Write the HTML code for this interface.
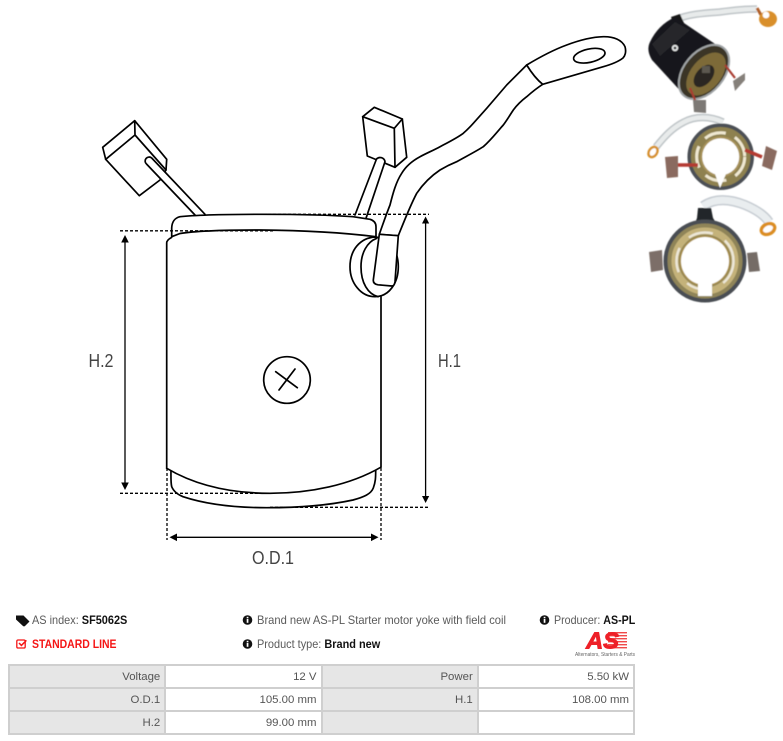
<!DOCTYPE html>
<html>
<head>
<meta charset="utf-8">
<style>
html,body{margin:0;padding:0;background:#fff;}
body{width:783px;height:741px;position:relative;overflow:hidden;font-family:"Liberation Sans",sans-serif;}
svg{position:absolute;left:0;top:0;}
.t{position:absolute;font-size:12px;line-height:14px;color:#5a5a5a;white-space:nowrap;transform-origin:left center;}
.t b{color:#111;}
table{position:absolute;left:8px;top:664px;width:627px;height:69px;border-collapse:collapse;table-layout:fixed;font-size:11.4px;color:#555;}
td{border:2px solid #cfcfcf;text-align:right;padding:0 4px 0 0;height:21px;line-height:14px;}
td.l{background:#e6e6e6;}
</style>
</head>
<body>
<svg width="783" height="741" viewBox="0 0 783 741">
<defs>
<filter id="b" x="-20%" y="-20%" width="140%" height="140%"><feGaussianBlur stdDeviation="0.6"/></filter>
</defs>

<!-- main drawing -->
<g fill="none" stroke="#000" stroke-width="1.7" stroke-linejoin="round" stroke-linecap="round">
  <!-- left brush -->
  <path fill="#fff" d="M134.7 120.7L102.7 147.3L105.7 159.3L139.3 195.7L160 180L166 170L166.7 159.3Z"/>
  <path d="M105.7 159.3L135 135L134.7 120.7M135 135L166 170"/>
  <path fill="#fff" d="M195 215L146.5 164A3.5 3.5 0 0 1 151.7 158L205 214.3"/>
  <!-- right brush -->
  <path fill="#fff" d="M362.7 116.7L374.3 107.3L402.3 119L406.7 157.3L395 167.3L367.3 156Z"/>
  <path d="M362.7 116.7L394.3 128.3L402.3 119M394.3 128.3L395 167.3"/>
  <path fill="#fff" d="M355 215L376.5 159A5 5 0 0 1 385 161.7L366 218.3"/>

  <!-- lower lobe, behind the body -->
  <path fill="#fff" d="M171 470C170.8 480 170.8 483 171.7 486.7C174 492 178 494.5 183 496.7C205 504 235 507.7 266.7 507.7C300 507.7 330 505 353 500C364 497 371 494 373.3 488C375.5 482 375.7 478 375.7 470"/>
  <!-- body -->
  <path fill="#fff" d="M166.7 468.3V243C166.7 240 169 238 172 237L376 237.3L381 297V467.3C350 485 310 493.3 270 493.3C230 493.3 195 485 166.7 468.3Z" stroke="none"/>
  <path d="M166.7 468.3V243Q166.7 240 171.5 237.5M381 296.7V467.3"/>
  <path d="M166.7 468.3C195 485 230 493.3 270 493.3C310 493.3 350 485 380.7 467.3"/>
  <!-- top band -->
  <path fill="#fff" d="M171.7 236.7V228C172 221 175 218 180 216.7C200 214.5 230 214.3 263 214.3C295 214.3 330 215 353 216.7L370 219.3C374 220.5 376 223 376 226.7V236.7C350 233.5 310 230.5 260 230C225 230 195 231 180 233.5Z"/>
  <!-- terminal ellipse -->
  <path fill="#fff" d="M375 237C360 238 350 250 350 266.7C350 283 361 296.7 375 296.7C389 296.7 398.3 283 398.3 266.7C398.3 250 389 238 375 237Z"/>
  <path d="M376.7 238.3C367 242 361 253 361 266.7C361 283 368 294 378 296.7"/>
  <!-- lead -->
  <path fill="#fff" d="M379.3 234.3C383 224 386 215 390 205C393 193 396 182 401.7 173.3C406 166 412 161 420 156.7C427 153 434 150 440 146.7C449 142 457 138 463.3 133.3C467 130 470 127 473.3 123.3L486.7 108.3L506.7 85L526.7 65L542.7 84.3C537 88 532 92 526.7 96.7C521 101 517 105 513.3 110C510 115 507 120 503.3 125C497 132 491 140 483.3 146.7C475 152 465 157 456.7 161.7C451 164 445 167 440 170C431 176 423 184 416.7 193.3C410 206 403 224 398.3 235.7Z"/>
  <path fill="#fff" d="M526.7 65C540 57 553 50 566.7 45C580 40 592 37 603.3 36.7C614 36.5 622 40 625 46.7C626.5 52 625 56 623 58C618 62 611 64.5 603.3 66.7L542.7 84.3C536 79 531 72 526.7 65Z"/>
  <ellipse cx="589.3" cy="55.7" rx="16" ry="6.7" transform="rotate(-12 589.3 55.7)"/>
  <!-- clamp -->
  <path fill="#fff" d="M379.3 234.3L398.3 235.7L395 281.7Q394.5 286 391.7 286L378 284.8Q373 284 373.3 280Z"/>
  <!-- centre symbol -->
  <circle cx="287" cy="380" r="23.3"/>
  <path d="M275.7 371.7L297.3 387.7M295 369L279 390"/>
  <!-- dimension arrows -->
  <g stroke-width="1.3">
    <path d="M125 241V484M425.6 222V497M176 537.3H372"/>
  </g>
</g>
<g fill="#000">
  <path d="M125 235l-3.8 7.5h7.6zM125 490l-3.8-7.5h7.6zM425.6 216.5l-3.6 7h7.2zM425.6 503l-3.6-7h7.2zM169.5 537.3l7.5-3.8v7.6zM378.5 537.3l-7.5-3.8v7.6z"/>
</g>
<g fill="none" stroke="#000" stroke-width="1.3" stroke-dasharray="3 2">
  <path d="M120 230.8H273M263 214.3H429M120 493.3H270M270 507.3H429M167 468V540M381 468V540"/>
</g>

<!-- dimension labels -->
<g font-family="'Liberation Sans',sans-serif" font-size="18" fill="#444">
  <text x="88.5" y="367" textLength="25" lengthAdjust="spacingAndGlyphs">H.2</text>
  <text x="438" y="367" textLength="23" lengthAdjust="spacingAndGlyphs">H.1</text>
  <text x="252" y="564" textLength="42" lengthAdjust="spacingAndGlyphs">O.D.1</text>
</g>

<!-- photographs -->
<g filter="url(#b)">
  <!-- photo 1 -->
  <path d="M675 20C688 14 705 13 720 12C735 10 748 9 757 9" fill="none" stroke="#bfc5c8" stroke-width="7.5"/>
  <path d="M675 20C688 14 705 13 720 12C735 10 748 9 757 9" fill="none" stroke="#e8ebeb" stroke-width="4.5"/>
  <path d="M757 8L761 15" stroke="#b0612a" stroke-width="3"/>
  <ellipse cx="768" cy="19" rx="9" ry="8" fill="#d98f2a"/>
  <circle cx="766" cy="15" r="3.4" fill="#fff"/>
  <path d="M671 17L680 14L684 23L674 25Z" fill="#151515"/>
  <path d="M675 17L724 50L686 97L652 60Q646 50 650 42Q658 25 675 17Z" fill="#15171a"/>
  <path d="M652 44L675 22L690 30L660 56Z" fill="#26282c"/>
  <ellipse cx="704" cy="72" rx="31" ry="20" transform="rotate(-50 704 72)" fill="#3a3628" stroke="#a0a4a6" stroke-width="2"/>
  <ellipse cx="706" cy="74" rx="25" ry="15" transform="rotate(-50 706 74)" fill="#7d6a38"/>
  <ellipse cx="704" cy="76" rx="13" ry="8" transform="rotate(-50 704 76)" fill="#2a2620"/>
  <rect x="702" y="66" width="8" height="7" fill="#5c5850"/>
  <circle cx="675" cy="48" r="3.2" fill="#e4e6e6"/>
  <circle cx="675" cy="48" r="1.4" fill="#333"/>
  <path d="M690 88L695 100M725 65L735 78" stroke="#a93c30" stroke-width="2.2"/>
  <path d="M693 100L706 100L706 113L694 112Z" fill="#7d7974"/>
  <path d="M733 81L745 73L745 80L735 91Z" fill="#85807a"/>

  <!-- photo 2 -->
  <path d="M723 122C710 116 695 116 684 122C672 128 664 137 656 147" fill="none" stroke="#bfc5c8" stroke-width="7.5"/>
  <path d="M723 122C710 116 695 116 684 122C672 128 664 137 656 147" fill="none" stroke="#e8ebeb" stroke-width="4.5"/>
  <ellipse cx="653" cy="152" rx="4" ry="5.5" transform="rotate(35 653 152)" fill="#fff" stroke="#d6912d" stroke-width="2.5"/>
  <circle cx="720.7" cy="156.7" r="31.5" fill="#8e8150" stroke="#4c5054" stroke-width="3.5"/>
  <circle cx="720.7" cy="156.7" r="24" fill="none" stroke="#efe8d2" stroke-width="3" stroke-dasharray="22 10"/>
  <circle cx="720.7" cy="156.7" r="20.5" fill="#a8935a"/>
  <circle cx="720.7" cy="156.7" r="18.5" fill="#fff"/>
  <path d="M715 174L720 188L726 174Z" fill="#fff"/>
  <path d="M677 165L698 165M745 150L762 157" stroke="#b43a30" stroke-width="3.4"/>
  <path d="M665 157L678 156L678 177L667 178Z" fill="#8a6b5f"/>
  <path d="M766 146L777 151L772 170L762 166Z" fill="#8a6b5f"/>

  <!-- photo 3 -->
  <path d="M703 206C715 198 730 199 745 205C757 210 765 216 769 222" fill="none" stroke="#c6ccd2" stroke-width="10"/>
  <path d="M703 206C715 198 730 199 745 205C757 210 765 216 769 222" fill="none" stroke="#e9edef" stroke-width="7"/>
  <ellipse cx="768" cy="229" rx="7" ry="5" transform="rotate(-25 768 229)" fill="#fff" stroke="#db8e22" stroke-width="3.4"/>
  <path d="M698 208L711 208L713 218L718 226L694 226L697 218Z" fill="#24272a"/>
  <circle cx="705" cy="261" r="39.5" fill="#8f8458" stroke="#4a4e52" stroke-width="4"/>
  <circle cx="705" cy="261" r="30" fill="none" stroke="#c4b27a" stroke-width="7"/>
  <circle cx="705" cy="261" r="28.5" fill="none" stroke="#ece7d8" stroke-width="2.5" stroke-dasharray="25 14"/>
  <circle cx="705" cy="261" r="25.5" fill="#a98f4a"/>
  <circle cx="705" cy="261" r="24" fill="#fff"/>
  <path d="M698 282L712 282L712 296L698 296Z" fill="#fff"/>
  <path d="M649 252L662 250L663 270L651 272Z" fill="#7c6e68"/>
  <path d="M747 253L757 252L760 271L749 272Z" fill="#756c66"/>
</g>

<!-- icons -->
<g fill="#111">
  <path d="M16 615.5h6.5l6 6-5 5-7.5-7z"/>
  <path d="M24.5 615.5l6 6-5 5-1-1 4-4-6-6z" transform="translate(-1 0)"/>
  <circle cx="247.5" cy="620" r="4.8"/>
  <circle cx="247.5" cy="644" r="4.8"/>
  <circle cx="544.5" cy="620" r="4.8"/>
</g>
<g fill="#fff">
  <rect x="246.7" y="616.8" width="1.7" height="1.5"/><rect x="246.7" y="619" width="1.7" height="3.8"/>
  <rect x="246.7" y="640.8" width="1.7" height="1.5"/><rect x="246.7" y="643" width="1.7" height="3.8"/>
  <rect x="543.7" y="616.8" width="1.7" height="1.5"/><rect x="543.7" y="619" width="1.7" height="3.8"/>
</g>
<rect x="16.8" y="640" width="8.4" height="8" rx="1.3" fill="none" stroke="#f51515" stroke-width="1.3"/>
<path d="M19 643l2.4 2.4 5-5" fill="none" stroke="#f51515" stroke-width="1.5"/>

<!-- logo -->
<g fill="#f04a4a">
  <rect x="608" y="632" width="19" height="1.4"/>
  <rect x="608" y="635" width="19" height="1.4"/>
  <rect x="608" y="638" width="19" height="1.4"/>
  <rect x="608" y="641" width="19" height="1.4"/>
  <rect x="608" y="644" width="19" height="1.4"/>
  <rect x="608" y="647" width="19" height="1.4"/>
</g>
<text x="586" y="648.5" font-family="'Liberation Sans',sans-serif" font-size="23" font-weight="bold" font-style="italic" fill="#ee2028" stroke="#ee2028" stroke-width="0.9" textLength="33" lengthAdjust="spacingAndGlyphs">AS</text>
<text x="575" y="656" font-family="'Liberation Sans',sans-serif" font-size="5" fill="#666" textLength="60" lengthAdjust="spacingAndGlyphs">Alternators, Starters &amp; Parts</text>
</svg>

<div class="t" style="left:32px;top:613px;transform:scaleX(.91);">AS index: <b>SF5062S</b></div>
<div class="t" style="left:32px;top:637px;color:#f51515;font-weight:bold;transform:scaleX(.87);">STANDARD LINE</div>
<div class="t" style="left:257px;top:613px;transform:scaleX(.93);">Brand new AS-PL Starter motor yoke with field coil</div>
<div class="t" style="left:257px;top:637px;transform:scaleX(.91);">Product type: <b>Brand new</b></div>
<div class="t" style="left:554px;top:613px;transform:scaleX(.89);">Producer: <b>AS-PL</b></div>

<table>
<tr><td class="l">Voltage</td><td>12 V</td><td class="l">Power</td><td>5.50 kW</td></tr>
<tr><td class="l">O.D.1</td><td>105.00 mm</td><td class="l">H.1</td><td>108.00 mm</td></tr>
<tr><td class="l">H.2</td><td>99.00 mm</td><td class="l"></td><td></td></tr>
</table>
</body>
</html>
